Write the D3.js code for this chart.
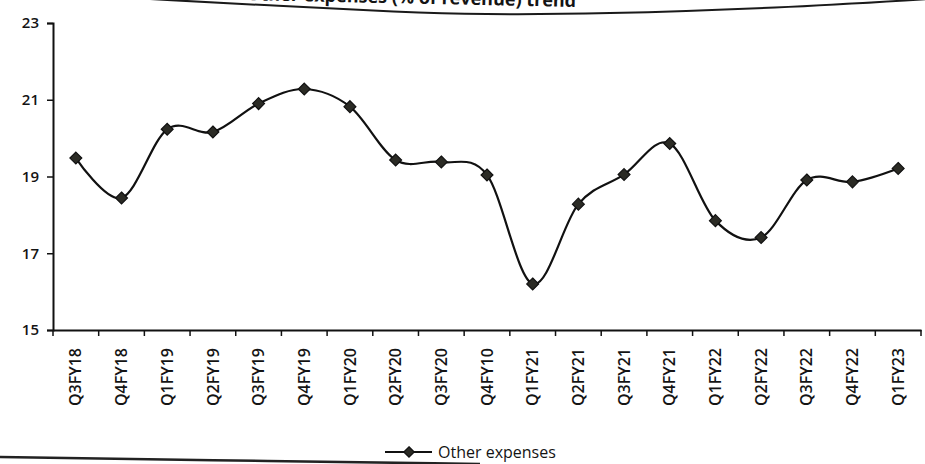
<!DOCTYPE html>
<html>
<head>
<meta charset="utf-8">
<script src="https://cdn.jsdelivr.net/npm/d3@7"></script>
<style>
  html, body { margin: 0; padding: 0; background: #fff; }
  svg { display: block; }
  text { font-family: "Open Sans", "Noto Sans", sans-serif; fill: #141414; }
</style>
</head>
<body>
<svg id="chart" width="925" height="464"></svg>
<script>
// Quarterly "other expenses" as a share of revenue (%)
const categories = ["Q3FY18","Q4FY18","Q1FY19","Q2FY19","Q3FY19","Q4FY19","Q1FY20","Q2FY20","Q3FY20",
                    "Q4FY10","Q1FY21","Q2FY21","Q3FY21","Q4FY21","Q1FY22","Q2FY22","Q3FY22","Q4FY22","Q1FY23"];
const otherExpenses = [19.48, 18.44, 20.23, 20.16, 20.90, 21.28, 20.82, 19.43, 19.38,
                       19.04, 16.20, 18.28, 19.05, 19.86, 17.85, 17.41, 18.91, 18.86, 19.21];
const yTicks = [15, 17, 19, 21, 23];
const seriesName = "Other expenses";
const titleText = "Other expenses (% of revenue) trend";

const svg = d3.select("#chart");
const plot = { left: 53, right: 921, top: 23, bottom: 330 };

const x = d3.scaleBand().domain(categories).range([plot.left, plot.right]).padding(0);
const y = d3.scaleLinear().domain([15, 23]).range([plot.bottom, plot.top]);
const cx = d => x(d) + x.bandwidth() / 2;

// Title, running off the top edge of the frame
svg.append("text")
  .attr("x", 576).attr("y", 7)
  .attr("text-anchor", "end")
  .attr("transform", "rotate(1.2 576 7)")
  .style("font-size", "18px").style("font-weight", 700)
  .text(titleText);

// Chart-area outline along the top (curved edge)
const edge = [[150, -1], [280, 6], [400, 12], [480, 14.5], [600, 14], [780, 8], [930, -1]];
svg.append("path")
  .attr("d", d3.line().curve(d3.curveBasis)(edge))
  .attr("fill", "none").attr("stroke", "#1a1a1a").attr("stroke-width", 2);

// Bottom outline
const edgeBottom = [[0, 457], [200, 460], [480, 464]];
svg.append("path")
  .attr("d", d3.line().curve(d3.curveBasis)(edgeBottom))
  .attr("fill", "none").attr("stroke", "#222").attr("stroke-width", 2.5);

// Y axis
const yAxis = d3.axisLeft(y).tickValues(yTicks).tickSize(6).tickPadding(8).tickFormat(d3.format("d"));
const gy = svg.append("g").attr("transform", `translate(${plot.left},0)`).call(yAxis);
gy.select(".domain").attr("stroke", "#111").attr("stroke-width", 2);
gy.selectAll(".tick line").attr("stroke", "#111").attr("stroke-width", 1.5);
gy.selectAll(".tick text").style("font-size", "15px").style("font-weight", 600).attr("fill", "#141414");

// X axis: ticks at category boundaries, labels at category centres
const xAxis = d3.axisBottom(x).tickSize(0).tickPadding(0);
const gx = svg.append("g").attr("transform", `translate(0,${plot.bottom})`).call(xAxis);
gx.select(".domain").attr("stroke", "#111").attr("stroke-width", 2);
gx.selectAll(".tick text")
  .attr("transform", "rotate(-90)")
  .attr("x", -18).attr("y", 0).attr("dy", "0.35em")
  .attr("text-anchor", "end")
  .style("font-size", "16px").style("font-weight", 600).attr("fill", "#141414");

const bounds = categories.map(c => x(c)).concat([plot.right]);
gx.selectAll("line.bound").data(bounds).join("line")
  .attr("class", "bound")
  .attr("x1", d => d).attr("x2", d => d)
  .attr("y1", 0).attr("y2", 6)
  .attr("stroke", "#111").attr("stroke-width", 1.5);

// Smoothed series line
const line = d3.line()
  .x((d, i) => cx(categories[i]))
  .y(d => y(d))
  .curve(d3.curveCardinal.tension(0));
svg.append("path")
  .datum(otherExpenses)
  .attr("d", line)
  .attr("fill", "none").attr("stroke", "#111").attr("stroke-width", 2.2);

// Diamond markers
const diamond = d3.symbol().type(d3.symbolDiamond2).size(90);
svg.selectAll("path.marker").data(otherExpenses).join("path")
  .attr("class", "marker")
  .attr("d", diamond)
  .attr("transform", (d, i) => `translate(${cx(categories[i])},${y(d)})`)
  .attr("fill", "#2b2b25").attr("stroke", "#111").attr("stroke-width", 1.2);

// Legend
const lg = svg.append("g").attr("transform", "translate(385,452)");
lg.append("line").attr("x1", 0).attr("x2", 47).attr("y1", 0).attr("y2", 0)
  .attr("stroke", "#111").attr("stroke-width", 2.2);
lg.append("path").attr("d", d3.symbol().type(d3.symbolDiamond2).size(70))
  .attr("transform", "translate(24,0)")
  .attr("fill", "#2b2b25").attr("stroke", "#111").attr("stroke-width", 1.2);
lg.append("text").attr("x", 53).attr("y", 0).attr("dy", "0.35em")
  .style("font-size", "16px").style("font-weight", 500)
  .text(seriesName);
</script>
</body>
</html>
